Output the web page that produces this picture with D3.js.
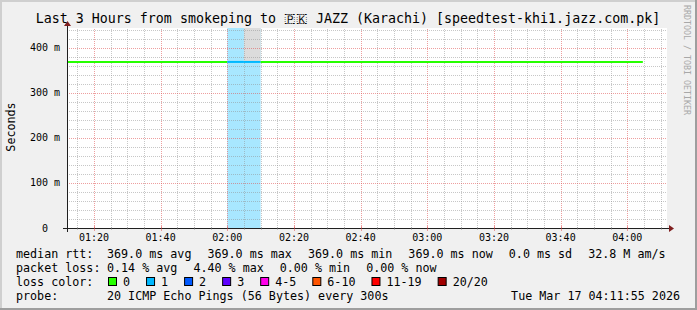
<!DOCTYPE html>
<html><head><meta charset="utf-8">
<script src="https://cdn.jsdelivr.net/npm/d3@7"></script>
<style>
body{margin:0;background:#f0f0f0}
svg{display:block}
text{font-family:"DejaVu Sans Mono",monospace;white-space:pre}
</style>
</head><body><svg id="c" width="697" height="310"></svg>
<script>
// ---- data ----
const title = "Last 3 Hours from smokeping to 🇵\u200C🇰 JAZZ (Karachi) [speedtest-khi1.jazz.com.pk]";
const yAxisLabel = "Seconds";
const watermark = "RRDTOOL / TOBI OETIKER";
const timeStart = "2026-03-17T01:11:55Z";
const timeEnd = "2026-03-17T04:11:55Z";
const yMax = 0.4444;
const yTicks = [0, 0.1, 0.2, 0.3, 0.4];
const segBounds = ["01:11:55", "02:00:00", "02:05:00", "02:10:00", "04:04:40"];
const segRtt = [0.369, 0.369, 0.369, 0.369];
const segLoss = [0, 1, 1, 0];            // index into loss classes
const segSmokeTop = [0.369, 0.369, 0.5, 0.369];
const lossLabels = ["0", "1", "2", "3", "4-5", "6-10", "11-19", "20/20"];
const lossColors = ["#26ff00", "#00b8ff", "#0059ff", "#5e00ff", "#ff00ea", "#ff5500", "#ff0000", "#a10000"];
const rttStats = ["369.0 ms avg", "369.0 ms max", "369.0 ms min", "369.0 ms now", "0.0 ms sd", "32.8 M am/s"];
const lossStats = ["0.14 % avg", "4.40 % max", "0.00 % min", "0.00 % now"];
const probeText = "20 ICMP Echo Pings (56 Bytes) every 300s";
const dateText = "Tue Mar 17 04:11:55 2026";

// ---- layout ----
const W = 697, H = 310;
const x0 = 67, xs = 600, y0 = 228, ys = 200;
const svg = d3.select("#c");
const t = s => new Date("2026-03-17T" + s + "Z");
const x = d3.scaleUtc().domain([new Date(timeStart), new Date(timeEnd)]).range([x0, x0 + xs]);
const y = d3.scaleLinear().domain([0, yMax]).range([y0, y0 - ys]);

// frame
svg.append("rect").attr("width", W).attr("height", H).attr("fill", "#f0f0f0");
svg.append("path").attr("d", `M0,${H}V0H${W}`).attr("fill", "none").attr("stroke", "#cfcfcf").attr("stroke-width", 4);
svg.append("path").attr("d", `M0,${H}H${W}V0`).attr("fill", "none").attr("stroke", "#9e9e9e").attr("stroke-width", 4);

// canvas
svg.append("rect").attr("x", x0).attr("y", y0 - ys).attr("width", xs).attr("height", ys).attr("fill", "#fff");

const segs = segRtt.map((v, i) => ({ a: t(segBounds[i]), b: t(segBounds[i + 1]), v, loss: segLoss[i], smoke: segSmokeTop[i] }));
const clipTop = v => Math.min(v, yMax);

// loss background
svg.append("g").selectAll("rect").data(segs.filter(d => d.loss > 0)).join("rect")
  .attr("x", d => x(d.a)).attr("width", d => x(d.b) - x(d.a))
  .attr("y", y(yMax)).attr("height", y(0) - y(yMax))
  .attr("fill", d => d3.interpolateRgb(lossColors[d.loss], "#fff")(0.66));

// smoke
svg.append("g").selectAll("rect").data(segs.filter(d => d.smoke > d.v)).join("rect")
  .attr("x", d => x(d.a)).attr("width", d => x(d.b) - x(d.a))
  .attr("y", d => y(clipTop(d.smoke))).attr("height", d => y(d.v) - y(clipTop(d.smoke)))
  .attr("fill", "#dcdcdc");

// grid
const grid = svg.append("g").attr("shape-rendering", "crispEdges");
const minorCol = "rgba(143,143,143,0.5)", majorCol = "rgba(224,80,80,0.55)";
const minorX = x.ticks(d3.utcMinute.every(5));
const majorX = x.ticks(d3.utcMinute.every(20));
const isMajorX = d => majorX.some(m => +m === +d);
grid.selectAll(".vx").data(minorX).join("line")
  .attr("x1", d => Math.round(x(d)) + 0.5).attr("x2", d => Math.round(x(d)) + 0.5)
  .attr("y1", y0).attr("y2", y0 - ys)
  .attr("stroke", d => isMajorX(d) ? majorCol : minorCol).attr("stroke-dasharray", "1,1");
const minorY = d3.range(1, 23).map(i => i * 0.02).filter(v => v <= yMax);
grid.selectAll(".hy").data(minorY).join("line")
  .attr("x1", x0).attr("x2", x0 + xs)
  .attr("y1", d => Math.round(y(d)) + 0.5).attr("y2", d => Math.round(y(d)) + 0.5)
  .attr("stroke", d => (Math.round(d * 100) % 10 === 0) ? majorCol : minorCol).attr("stroke-dasharray", "1,1");

// median rtt line
svg.append("g").selectAll("path").data(segs).join("path")
  .attr("d", d => d3.line()([[x(d.a), y(d.v)], [x(d.b), y(d.v)]]))
  .attr("stroke", d => lossColors[d.loss]).attr("stroke-width", 2).attr("fill", "none");

// axes
const ax = svg.append("g").attr("shape-rendering", "crispEdges");
ax.append("line").attr("x1", x0 - 4).attr("x2", x0 + xs + 4).attr("y1", y0 + 0.5).attr("y2", y0 + 0.5).attr("stroke", "#1f1f1f");
ax.append("line").attr("x1", x0 + 0.5).attr("x2", x0 + 0.5).attr("y1", y0 + 4).attr("y2", y0 - ys - 4).attr("stroke", "#1f1f1f");
ax.selectAll(".tk").data(minorX).join("line")
  .attr("x1", d => Math.round(x(d)) + 0.5).attr("x2", d => Math.round(x(d)) + 0.5)
  .attr("y1", d => y0 - (isMajorX(d) ? 2 : 1)).attr("y2", d => y0 + (isMajorX(d) ? 3 : 2))
  .attr("stroke", d => isMajorX(d) ? majorCol : minorCol);
svg.append("path").attr("d", `M${x0 + xs + 2},${y0 - 3}L${x0 + xs + 7},${y0 + 0.5}L${x0 + xs + 2},${y0 + 4}Z`).attr("fill", "#7f1f1f");
svg.append("path").attr("d", `M${x0 - 3},${y0 - ys - 2}L${x0 + 0.5},${y0 - ys - 7}L${x0 + 4},${y0 - ys - 2}Z`).attr("fill", "#7f1f1f");

// tick labels
const xf = d3.utcFormat("%H:%M");
svg.append("g").selectAll("text").data(majorX).join("text")
  .attr("x", d => x(d)).attr("y", 241).attr("text-anchor", "middle")
  .attr("font-size", 10).text(d => xf(d));
svg.append("g").selectAll("text").data(yTicks).join("text")
  .attr("x", 60).attr("y", d => y(d) + 3.5).attr("text-anchor", "end")
  .attr("font-size", 10).text(d => d === 0 ? "0  " : d3.format(".0f")(d * 1000) + " m");

// titles
svg.append("text").attr("x", 348).attr("y", 23).attr("text-anchor", "middle").attr("font-size", 13.3).text(title);
svg.append("text").attr("transform", "translate(15,127) rotate(-90)").attr("text-anchor", "middle")
  .attr("font-size", 11.7).text(yAxisLabel);
svg.append("text").attr("transform", "translate(684,5) rotate(90)").attr("font-size", 8.3)
  .attr("fill", "#a8a8a8").text(watermark);

// legend
const fs = 11.7, colX = 107, gap = 16;
const leg = svg.append("g").attr("font-size", fs);
function row(label, items, yb) {
  leg.append("text").attr("x", 16).attr("y", yb).text(label);
  let cx = colX;
  items.forEach(s => {
    const tx = leg.append("text").attr("x", cx).attr("y", yb).text(s);
    cx += tx.node().getComputedTextLength() + gap;
  });
}
row("median rtt:", rttStats, 258);
row("packet loss:", lossStats, 272);
leg.append("text").attr("x", 16).attr("y", 286).text("loss color:");
let sx = 108;
lossLabels.forEach((l, i) => {
  leg.append("rect").attr("x", sx + 0.5).attr("y", 277.5).attr("width", 8).attr("height", 8)
    .attr("fill", lossColors[i]).attr("stroke", "#000");
  const tx = leg.append("text").attr("x", sx + 15).attr("y", 286).text(l);
  sx += 15 + tx.node().getComputedTextLength() + gap;
});
leg.append("text").attr("x", 16).attr("y", 300).text("probe:");
leg.append("text").attr("x", colX).attr("y", 300).text(probeText);
leg.append("text").attr("x", 680).attr("y", 300).attr("text-anchor", "end").text(dateText);
</script>
</body></html>
